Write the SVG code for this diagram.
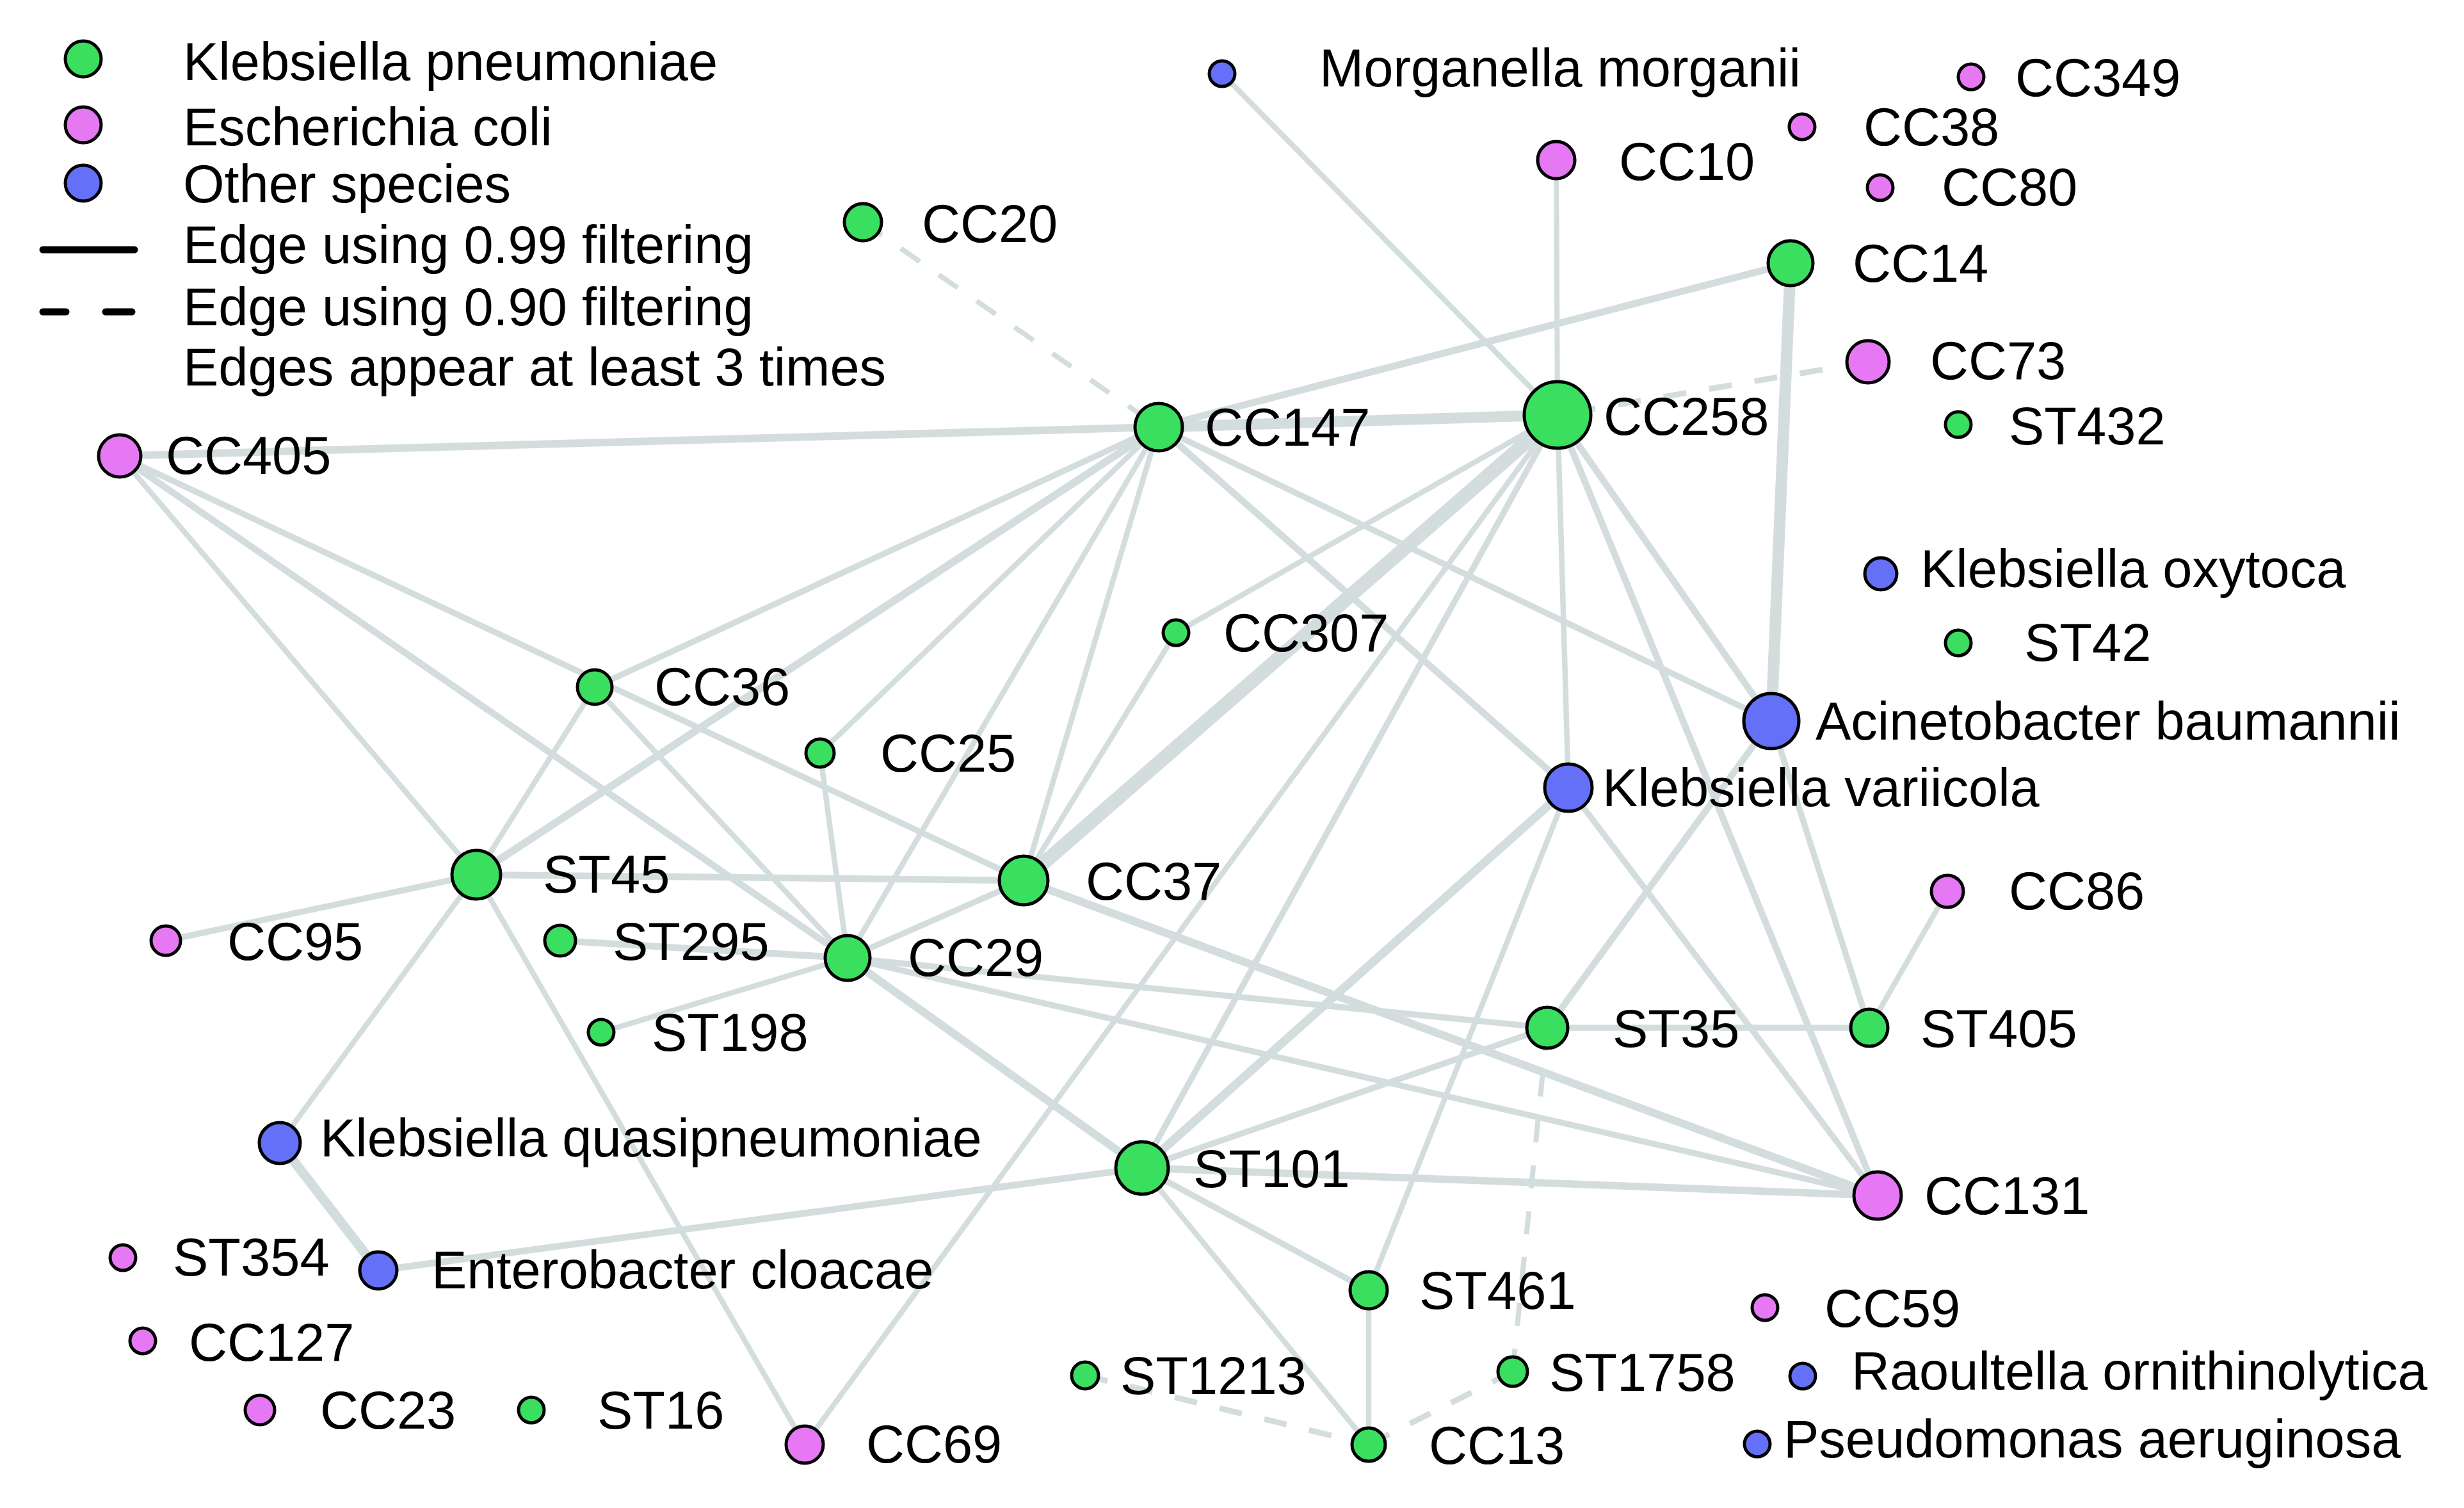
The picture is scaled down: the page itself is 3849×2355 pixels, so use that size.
<svg xmlns="http://www.w3.org/2000/svg" width="3849" height="2355" viewBox="0 0 3849 2355">
<style>
.e line{stroke:#D4DDDE;fill:none}
.d{stroke-dasharray:36 36}
circle{stroke:#000;stroke-width:5}
.g{fill:#3ADF5F}
.p{fill:#E678F4}
.b{fill:#6470F7}
text{font-family:"Liberation Sans",Arial,Helvetica,sans-serif;font-size:83px;fill:#000}
</style>
<rect width="3849" height="2355" fill="#fff"/>
<g id="legend">
<circle class="g" cx="130" cy="92" r="28"/>
<circle class="p" cx="130" cy="195" r="28"/>
<circle class="b" cx="130" cy="286" r="28"/>
<line x1="67" y1="390" x2="210" y2="390" stroke="#000" stroke-width="11" stroke-linecap="round"/>
<line x1="67" y1="487" x2="103" y2="487" stroke="#000" stroke-width="11" stroke-linecap="round"/>
<line x1="165" y1="487" x2="206" y2="487" stroke="#000" stroke-width="11" stroke-linecap="round"/>
<text x="286" y="125">Klebsiella pneumoniae</text>
<text x="286" y="227">Escherichia coli</text>
<text x="286" y="316">Other species</text>
<text x="286" y="411">Edge using 0.99 filtering</text>
<text x="286" y="508">Edge using 0.90 filtering</text>
<text x="286" y="602">Edges appear at least 3 times</text>
</g>
<g id="edges" class="e">
<line x1="187" y1="712" x2="1810" y2="667" stroke-width="12"/>
<line x1="187" y1="712" x2="744" y2="1366" stroke-width="8.5"/>
<line x1="187" y1="712" x2="1324" y2="1496" stroke-width="10.5"/>
<line x1="187" y1="712" x2="1599" y2="1375" stroke-width="9.5"/>
<line class="d" x1="1348" y1="347" x2="1810" y2="667" stroke-width="8"/>
<line x1="1909" y1="115" x2="2433" y2="648" stroke-width="8.5"/>
<line x1="2431" y1="250" x2="2433" y2="648" stroke-width="8"/>
<line x1="2797" y1="411" x2="1810" y2="667" stroke-width="11"/>
<line x1="2797" y1="411" x2="2767" y2="1126" stroke-width="18"/>
<line class="d" x1="2918" y1="565" x2="2433" y2="648" stroke-width="9"/>
<line x1="1810" y1="667" x2="2433" y2="648" stroke-width="17"/>
<line x1="2433" y1="648" x2="1837" y2="988" stroke-width="8.5"/>
<line x1="2433" y1="648" x2="1599" y2="1375" stroke-width="22"/>
<line x1="2433" y1="648" x2="2450" y2="1230" stroke-width="8.5"/>
<line x1="2433" y1="648" x2="2767" y2="1126" stroke-width="10.5"/>
<line x1="2433" y1="648" x2="2933" y2="1867" stroke-width="10.5"/>
<line x1="2433" y1="648" x2="1784" y2="1824" stroke-width="9.5"/>
<line x1="2433" y1="648" x2="1257" y2="2256" stroke-width="8.5"/>
<line x1="1810" y1="667" x2="929" y2="1073" stroke-width="9.5"/>
<line x1="1810" y1="667" x2="744" y2="1366" stroke-width="12"/>
<line x1="1810" y1="667" x2="1281" y2="1176" stroke-width="8.5"/>
<line x1="1810" y1="667" x2="1324" y2="1496" stroke-width="8.5"/>
<line x1="1810" y1="667" x2="1599" y2="1375" stroke-width="8.5"/>
<line x1="1810" y1="667" x2="2450" y2="1230" stroke-width="10.5"/>
<line x1="1810" y1="667" x2="2767" y2="1126" stroke-width="9.5"/>
<line x1="929" y1="1073" x2="744" y2="1366" stroke-width="8.5"/>
<line x1="929" y1="1073" x2="1324" y2="1496" stroke-width="8.5"/>
<line x1="1281" y1="1176" x2="1324" y2="1496" stroke-width="8.5"/>
<line x1="744" y1="1366" x2="259" y2="1469" stroke-width="9.5"/>
<line x1="744" y1="1366" x2="1599" y2="1375" stroke-width="10.5"/>
<line x1="744" y1="1366" x2="437" y2="1785" stroke-width="8.5"/>
<line x1="744" y1="1366" x2="1257" y2="2256" stroke-width="8.5"/>
<line x1="875" y1="1469" x2="1324" y2="1496" stroke-width="10.5"/>
<line x1="1324" y1="1496" x2="939" y2="1612" stroke-width="8.5"/>
<line x1="1324" y1="1496" x2="1784" y2="1824" stroke-width="12.5"/>
<line x1="1324" y1="1496" x2="1599" y2="1375" stroke-width="9.5"/>
<line x1="1324" y1="1496" x2="2417" y2="1605" stroke-width="9.5"/>
<line x1="1324" y1="1496" x2="2933" y2="1867" stroke-width="9.5"/>
<line x1="1837" y1="988" x2="1599" y2="1375" stroke-width="8.5"/>
<line x1="1599" y1="1375" x2="2933" y2="1867" stroke-width="12.5"/>
<line x1="2450" y1="1230" x2="1784" y2="1824" stroke-width="13.5"/>
<line x1="2450" y1="1230" x2="2933" y2="1867" stroke-width="9.5"/>
<line x1="2450" y1="1230" x2="2138" y2="2015" stroke-width="8.5"/>
<line x1="2767" y1="1126" x2="2417" y2="1605" stroke-width="10.5"/>
<line x1="2767" y1="1126" x2="2920" y2="1605" stroke-width="9.5"/>
<line x1="2417" y1="1605" x2="2920" y2="1605" stroke-width="9.5"/>
<line x1="2417" y1="1605" x2="1784" y2="1824" stroke-width="9.5"/>
<line class="d" x1="2417" y1="1605" x2="2363" y2="2142" stroke-width="8"/>
<line x1="3042" y1="1392" x2="2920" y2="1605" stroke-width="8.5"/>
<line x1="1784" y1="1824" x2="2933" y2="1867" stroke-width="11.5"/>
<line x1="1784" y1="1824" x2="591" y2="1984" stroke-width="10.5"/>
<line x1="1784" y1="1824" x2="2138" y2="2015" stroke-width="9.5"/>
<line x1="1784" y1="1824" x2="2138" y2="2256" stroke-width="8.5"/>
<line x1="2138" y1="2015" x2="2138" y2="2256" stroke-width="8.5"/>
<line class="d" x1="1695" y1="2148" x2="2138" y2="2256" stroke-width="9"/>
<line class="d" x1="2363" y1="2142" x2="2138" y2="2256" stroke-width="9"/>
<line x1="437" y1="1785" x2="591" y2="1984" stroke-width="15"/>
</g>
<g id="n-CC405"><circle class="p" cx="187" cy="712" r="33"/><text x="259" y="740">CC405</text></g>
<g id="n-CC20"><circle class="g" cx="1348" cy="347" r="29"/><text x="1440" y="378">CC20</text></g>
<g id="n-Morganella"><circle class="b" cx="1909" cy="115" r="20"/><text x="2061" y="135">Morganella morganii</text></g>
<g id="n-CC10"><circle class="p" cx="2431" cy="250" r="29"/><text x="2529" y="281">CC10</text></g>
<g id="n-CC147"><circle class="g" cx="1810" cy="667" r="37"/><text x="1882" y="696">CC147</text></g>
<g id="n-CC258"><circle class="g" cx="2433" cy="648" r="52"/><text x="2505" y="679">CC258</text></g>
<g id="n-CC349"><circle class="p" cx="3079" cy="120" r="20"/><text x="3148" y="150">CC349</text></g>
<g id="n-CC38"><circle class="p" cx="2815" cy="198" r="20"/><text x="2911" y="227">CC38</text></g>
<g id="n-CC80"><circle class="p" cx="2937" cy="293" r="20"/><text x="3033" y="321">CC80</text></g>
<g id="n-CC14"><circle class="g" cx="2797" cy="411" r="35"/><text x="2894" y="440">CC14</text></g>
<g id="n-CC73"><circle class="p" cx="2918" cy="565" r="33"/><text x="3015" y="592">CC73</text></g>
<g id="n-ST432"><circle class="g" cx="3059" cy="663" r="20"/><text x="3138" y="694">ST432</text></g>
<g id="n-CC36"><circle class="g" cx="929" cy="1073" r="27"/><text x="1022" y="1101">CC36</text></g>
<g id="n-CC25"><circle class="g" cx="1281" cy="1176" r="22"/><text x="1375" y="1205">CC25</text></g>
<g id="n-ST45"><circle class="g" cx="744" cy="1366" r="38"/><text x="848" y="1394">ST45</text></g>
<g id="n-CC95"><circle class="p" cx="259" cy="1469" r="23"/><text x="355" y="1499">CC95</text></g>
<g id="n-ST295"><circle class="g" cx="875" cy="1469" r="24"/><text x="957" y="1499">ST295</text></g>
<g id="n-CC29"><circle class="g" cx="1324" cy="1496" r="35"/><text x="1418" y="1524">CC29</text></g>
<g id="n-ST198"><circle class="g" cx="939" cy="1612" r="20"/><text x="1018" y="1641">ST198</text></g>
<g id="n-CC307"><circle class="g" cx="1837" cy="988" r="20"/><text x="1911" y="1017">CC307</text></g>
<g id="n-CC37"><circle class="g" cx="1599" cy="1375" r="38"/><text x="1696" y="1405">CC37</text></g>
<g id="n-Kvariicola"><circle class="b" cx="2450" cy="1230" r="37"/><text x="2503" y="1259">Klebsiella variicola</text></g>
<g id="n-Acinetobacter"><circle class="b" cx="2767" cy="1126" r="43"/><text x="2836" y="1155">Acinetobacter baumannii</text></g>
<g id="n-Koxytoca"><circle class="b" cx="2938" cy="896" r="25"/><text x="3000" y="917">Klebsiella oxytoca</text></g>
<g id="n-ST42"><circle class="g" cx="3059" cy="1004" r="20"/><text x="3162" y="1032">ST42</text></g>
<g id="n-CC86"><circle class="p" cx="3042" cy="1392" r="25"/><text x="3138" y="1420">CC86</text></g>
<g id="n-ST35"><circle class="g" cx="2417" cy="1605" r="32"/><text x="2519" y="1635">ST35</text></g>
<g id="n-ST405"><circle class="g" cx="2920" cy="1605" r="29"/><text x="3000" y="1635">ST405</text></g>
<g id="n-CC131"><circle class="p" cx="2933" cy="1867" r="37"/><text x="3006" y="1896">CC131</text></g>
<g id="n-CC59"><circle class="p" cx="2757" cy="2042" r="20"/><text x="2850" y="2072">CC59</text></g>
<g id="n-Raoultella"><circle class="b" cx="2816" cy="2149" r="20"/><text x="2892" y="2170">Raoultella ornithinolytica</text></g>
<g id="n-Pseudomonas"><circle class="b" cx="2745" cy="2255" r="20"/><text x="2786" y="2276">Pseudomonas aeruginosa</text></g>
<g id="n-Kquasi"><circle class="b" cx="437" cy="1785" r="32"/><text x="500" y="1806">Klebsiella quasipneumoniae</text></g>
<g id="n-ST354"><circle class="p" cx="192" cy="1964" r="20"/><text x="270" y="1992">ST354</text></g>
<g id="n-Enterobacter"><circle class="b" cx="591" cy="1984" r="29"/><text x="674" y="2012">Enterobacter cloacae</text></g>
<g id="n-CC127"><circle class="p" cx="223" cy="2094" r="20"/><text x="295" y="2125">CC127</text></g>
<g id="n-CC23"><circle class="p" cx="406" cy="2202" r="23"/><text x="500" y="2231">CC23</text></g>
<g id="n-ST16"><circle class="g" cx="830" cy="2202" r="20"/><text x="933" y="2231">ST16</text></g>
<g id="n-CC69"><circle class="p" cx="1257" cy="2256" r="29"/><text x="1353" y="2284">CC69</text></g>
<g id="n-ST101"><circle class="g" cx="1784" cy="1824" r="41"/><text x="1864" y="1854">ST101</text></g>
<g id="n-ST461"><circle class="g" cx="2138" cy="2015" r="29"/><text x="2217" y="2044">ST461</text></g>
<g id="n-ST1213"><circle class="g" cx="1695" cy="2148" r="21"/><text x="1750" y="2177">ST1213</text></g>
<g id="n-ST1758"><circle class="g" cx="2363" cy="2142" r="23"/><text x="2420" y="2172">ST1758</text></g>
<g id="n-CC13"><circle class="g" cx="2138" cy="2256" r="26"/><text x="2232" y="2286">CC13</text></g>
</svg>
